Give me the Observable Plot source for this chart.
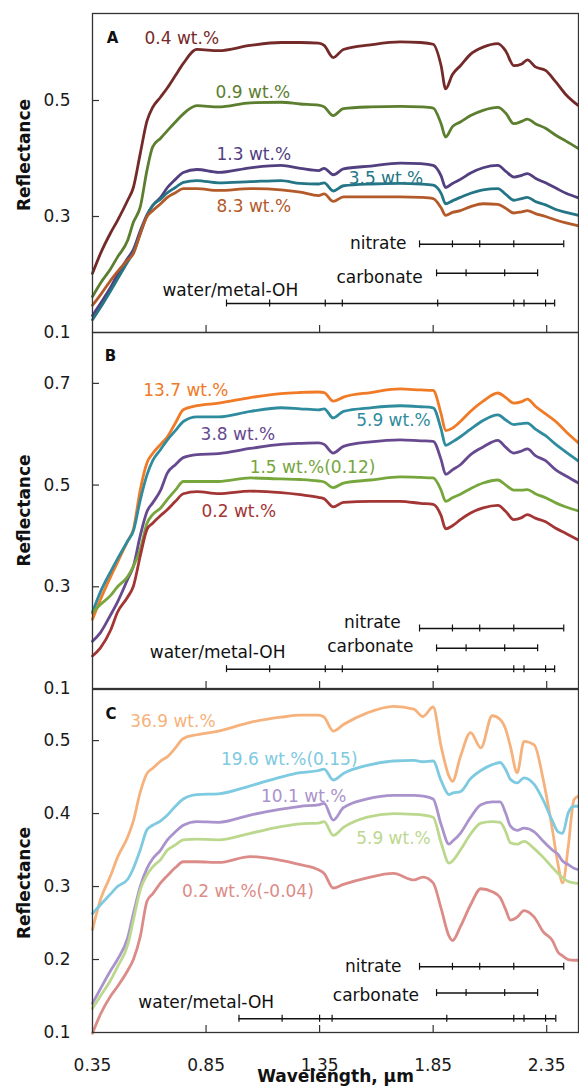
<!DOCTYPE html>
<html><head><meta charset="utf-8">
<script src="https://cdn.jsdelivr.net/npm/d3@7"></script>
<script src="https://cdn.jsdelivr.net/npm/@observablehq/plot@0.6"></script>
<style>
html,body{margin:0;padding:0;background:#fff;}
#wrap{position:relative;width:579px;height:1087px;overflow:hidden;}
#wrap svg{position:absolute;left:0;}
</style></head><body><div id="wrap"></div>
<script>
// ---------- shared x axis ----------
const xDomain = [0.35, 2.49];
const xTicks = [0.35, 0.85, 1.35, 1.85, 2.35];

// ---------- band annotation wavelengths ----------
const nitrateBands = [1.79, 1.935, 2.055, 2.205, 2.425];
const carbonateBands = [1.865, 1.995, 2.165, 2.31];
const waterBandsAB = [0.94, 1.13, 1.375, 1.45, 1.87, 2.205, 2.25, 2.345, 2.385];
const waterBandsC = [0.995, 1.185, 1.35, 1.405, 1.91, 2.205, 2.25, 2.345, 2.39];

// ---------- panel A ----------
const wlA = [0.35,0.385,0.43,0.46,0.505,0.53,0.56,0.59,0.615,0.65,0.68,0.715,0.75,0.81,0.905,1.045,1.18,1.265,1.345,1.37,1.41,1.455,1.575,1.705,1.795,1.85,1.885,1.905,1.935,1.97,2.015,2.07,2.135,2.17,2.205,2.24,2.265,2.3,2.345,2.39,2.435,2.49];
const namesA = ["0.4 wt.%", "0.9 wt.%", "1.3 wt.%", "3.5 wt.%", "8.3 wt.%"];
const colorsA = ["#752a2a", "#5b7e2f", "#523f80", "#247585", "#b35a2b"];
const a_04 = [0.202,0.236,0.272,0.293,0.328,0.35,0.408,0.465,0.488,0.506,0.522,0.543,0.564,0.588,0.586,0.595,0.6,0.6,0.599,0.595,0.574,0.588,0.596,0.601,0.6,0.597,0.56,0.52,0.545,0.56,0.58,0.592,0.598,0.585,0.56,0.563,0.57,0.558,0.552,0.532,0.51,0.491];
const a_09 = [0.162,0.185,0.21,0.23,0.259,0.29,0.316,0.38,0.42,0.435,0.448,0.463,0.477,0.491,0.489,0.496,0.497,0.494,0.492,0.489,0.474,0.486,0.489,0.49,0.489,0.487,0.46,0.437,0.455,0.463,0.474,0.483,0.488,0.478,0.46,0.464,0.468,0.46,0.452,0.44,0.43,0.417];
const a_13 = [0.129,0.15,0.178,0.2,0.228,0.243,0.275,0.303,0.319,0.333,0.35,0.364,0.376,0.381,0.376,0.384,0.388,0.383,0.379,0.383,0.372,0.382,0.387,0.392,0.391,0.388,0.37,0.35,0.357,0.364,0.375,0.384,0.388,0.378,0.368,0.371,0.374,0.366,0.358,0.349,0.34,0.332];
const a_35 = [0.122,0.143,0.172,0.192,0.222,0.238,0.27,0.302,0.319,0.33,0.341,0.35,0.359,0.362,0.358,0.36,0.362,0.357,0.356,0.358,0.344,0.353,0.356,0.357,0.356,0.354,0.34,0.322,0.327,0.333,0.34,0.346,0.348,0.338,0.328,0.331,0.333,0.326,0.32,0.312,0.307,0.302];
const a_83 = [0.147,0.165,0.19,0.205,0.225,0.236,0.27,0.3,0.31,0.322,0.333,0.341,0.348,0.348,0.345,0.348,0.346,0.342,0.336,0.339,0.326,0.334,0.334,0.334,0.333,0.331,0.315,0.302,0.307,0.31,0.317,0.322,0.321,0.314,0.306,0.308,0.31,0.305,0.3,0.294,0.289,0.284];

// ---------- panel B ----------
const wlB = wlA;
const namesB = ["13.7 wt.%", "5.9 wt.%", "3.8 wt.%", "1.5 wt.%(0.12)", "0.2 wt.%"];
const colorsB = ["#f07a26", "#2f8c9e", "#66498f", "#76a63c", "#a33535"];
const b_137 = [0.236,0.275,0.32,0.348,0.39,0.413,0.49,0.544,0.562,0.58,0.595,0.622,0.648,0.656,0.661,0.672,0.68,0.682,0.683,0.682,0.665,0.673,0.682,0.689,0.687,0.686,0.64,0.607,0.612,0.625,0.645,0.665,0.681,0.672,0.661,0.664,0.669,0.655,0.64,0.625,0.605,0.583];
const b_59 = [0.25,0.29,0.33,0.355,0.39,0.41,0.47,0.52,0.548,0.57,0.589,0.607,0.625,0.634,0.634,0.645,0.652,0.65,0.648,0.65,0.632,0.645,0.652,0.656,0.654,0.652,0.61,0.578,0.585,0.595,0.61,0.627,0.638,0.628,0.619,0.621,0.622,0.61,0.597,0.58,0.565,0.547];
const b_38 = [0.193,0.21,0.245,0.27,0.315,0.34,0.4,0.448,0.465,0.49,0.524,0.54,0.554,0.56,0.562,0.572,0.58,0.582,0.583,0.58,0.563,0.576,0.585,0.589,0.587,0.586,0.55,0.521,0.53,0.54,0.56,0.575,0.588,0.574,0.563,0.567,0.571,0.558,0.548,0.53,0.518,0.504];
const b_15 = [0.249,0.265,0.283,0.3,0.32,0.34,0.373,0.425,0.442,0.455,0.472,0.49,0.507,0.507,0.507,0.514,0.512,0.511,0.508,0.506,0.495,0.504,0.51,0.516,0.515,0.514,0.49,0.468,0.475,0.482,0.493,0.504,0.51,0.5,0.49,0.49,0.491,0.483,0.475,0.465,0.457,0.449];
const b_02 = [0.164,0.18,0.215,0.25,0.28,0.301,0.36,0.413,0.425,0.44,0.452,0.468,0.483,0.487,0.483,0.488,0.485,0.481,0.476,0.473,0.457,0.466,0.468,0.468,0.464,0.462,0.44,0.414,0.42,0.432,0.445,0.455,0.46,0.448,0.432,0.436,0.442,0.435,0.428,0.415,0.405,0.392];

// ---------- panel C ----------
const wlC = [0.35,0.385,0.43,0.46,0.505,0.53,0.56,0.59,0.615,0.65,0.68,0.715,0.75,0.81,0.905,1.045,1.18,1.265,1.345,1.37,1.41,1.455,1.56,1.675,1.765,1.805,1.85,1.885,1.92,1.935,1.97,2.015,2.06,2.11,2.145,2.17,2.19,2.22,2.25,2.295,2.335,2.375,2.4,2.42,2.445,2.47,2.49];
const namesC = ["36.9 wt.%", "19.6 wt.%(0.15)", "10.1 wt.%", "5.9 wt.%", "0.2 wt.%(-0.04)"];
const colorsC = ["#f6b27c", "#7ecae0", "#aa93cc", "#bcd88e", "#dc8c88"];
const c_369 = [0.241,0.282,0.315,0.34,0.368,0.39,0.429,0.455,0.462,0.472,0.478,0.49,0.503,0.508,0.513,0.525,0.532,0.535,0.535,0.532,0.513,0.522,0.538,0.547,0.543,0.533,0.546,0.492,0.451,0.444,0.478,0.511,0.49,0.534,0.529,0.515,0.492,0.456,0.499,0.494,0.446,0.378,0.33,0.305,0.355,0.419,0.424];
const c_196 = [0.263,0.275,0.29,0.3,0.31,0.325,0.35,0.378,0.384,0.39,0.398,0.41,0.42,0.426,0.427,0.438,0.45,0.456,0.459,0.461,0.446,0.455,0.466,0.472,0.473,0.471,0.472,0.445,0.426,0.428,0.43,0.448,0.459,0.467,0.47,0.46,0.447,0.442,0.449,0.44,0.418,0.39,0.375,0.373,0.401,0.41,0.41];
const c_101 = [0.14,0.16,0.185,0.2,0.23,0.263,0.3,0.325,0.338,0.35,0.364,0.375,0.384,0.389,0.388,0.398,0.406,0.41,0.412,0.414,0.391,0.408,0.42,0.425,0.425,0.424,0.42,0.385,0.358,0.362,0.373,0.395,0.412,0.416,0.416,0.4,0.383,0.377,0.38,0.375,0.362,0.35,0.344,0.335,0.33,0.325,0.323];
const c_59 = [0.133,0.15,0.172,0.19,0.22,0.254,0.295,0.316,0.327,0.337,0.35,0.357,0.364,0.365,0.364,0.373,0.382,0.386,0.387,0.389,0.37,0.381,0.395,0.4,0.399,0.398,0.395,0.36,0.332,0.335,0.35,0.372,0.387,0.389,0.388,0.375,0.36,0.358,0.362,0.352,0.34,0.326,0.318,0.312,0.307,0.305,0.304];
const c_02 = [0.099,0.125,0.15,0.163,0.185,0.2,0.231,0.28,0.29,0.305,0.315,0.326,0.334,0.334,0.333,0.341,0.336,0.33,0.323,0.318,0.298,0.303,0.312,0.318,0.309,0.313,0.305,0.27,0.232,0.226,0.245,0.275,0.297,0.293,0.285,0.268,0.254,0.258,0.267,0.258,0.238,0.226,0.21,0.205,0.2,0.199,0.199];

// ---------- layout (annotation anchors in data units) ----------
const layoutA = {
  top: 0, height: 333, mTop: 13, mBottom: 1, yDomain: [0.1, 0.65], yTicks: [0.1, 0.3, 0.5],
  labelPos: [[0.579, 0.607], [0.892, 0.514], [0.896, 0.407], [1.478, 0.365], [0.896, 0.317]],
  bandY: {nitrate: 0.252, carbonate: 0.202, water: 0.150},
  bandText: {nitrate: [1.733, 0.253], carbonate: [1.804, 0.195], water: [0.658, 0.172]},
  letter: "A", letterD: [20, 25], reflDy: -18
};
const layoutB = {
  top: 331, height: 358, mTop: 1, mBottom: 1, yDomain: [0.1, 0.8], yTicks: [0.1, 0.3, 0.5, 0.7],
  labelPos: [[0.573, 0.686], [1.511, 0.627], [0.826, 0.599], [1.042, 0.534], [0.83, 0.447]],
  bandY: {nitrate: 0.218, carbonate: 0.179, water: 0.138},
  bandText: {nitrate: [1.707, 0.23], carbonate: [1.763, 0.182], water: [0.602, 0.171]},
  letter: "B", letterD: [18, 24], reflDy: 0
};
const layoutC = {
  top: 688, height: 399, mTop: 1, mBottom: 55, yDomain: [0.1, 0.57], yTicks: [0.1, 0.2, 0.3, 0.4, 0.5],
  labelPos: [[0.516, 0.526], [0.916, 0.474], [1.092, 0.423], [1.511, 0.366], [0.744, 0.293]],
  bandY: {nitrate: 0.19, carbonate: 0.154, water: 0.119},
  bandText: {nitrate: [1.711, 0.191], carbonate: [1.788, 0.151], water: [0.552, 0.141]},
  letter: "C", letterD: [18.5, 25], reflDy: 22
};

const FONT = "DejaVu Sans";
const W = 579, mL = 92, mR = 1;

function makePanel(wl, names, colors, valueArrays, water, L, last) {
  const innerH = L.height - L.mTop - L.mBottom;
  const innerW = W - mL - mR;
  const rows = names.flatMap((n, k) => wl.map((w, i) => ({wl: w, r: valueArrays[k][i], name: n})));
  const labels = names.map((n, k) => ({x: L.labelPos[k][0], y: L.labelPos[k][1], name: n}));
  const bands = [
    {key: "nitrate", ticks: nitrateBands},
    {key: "carbonate", ticks: carbonateBands},
    {key: "water", ticks: water}
  ];
  const bandRules = bands.map(b => ({x1: b.ticks[0], x2: b.ticks[b.ticks.length - 1], y: L.bandY[b.key]}));
  const bandTicks = bands.flatMap(b => b.ticks.map(t => ({x: t, y: L.bandY[b.key]})));
  const bandLabels = [
    {text: "nitrate", x: L.bandText.nitrate[0], y: L.bandText.nitrate[1], anchor: "end"},
    {text: "carbonate", x: L.bandText.carbonate[0], y: L.bandText.carbonate[1], anchor: "end"},
    {text: "water/metal-OH", x: L.bandText.water[0], y: L.bandText.water[1], anchor: "start"}
  ];
  const marks = [
    Plot.ruleY(L.yTicks.filter(t => t > L.yDomain[0]), {y: d => d, insetRight: innerW - 7, stroke: "#333", strokeWidth: 1.2}),
    Plot.ruleX(xTicks.filter(t => t > xDomain[0]), {x: d => d, insetTop: innerH - 7, stroke: "#333", strokeWidth: 1.2}),
    Plot.axisY(L.yTicks, {tickSize: 0, tickPadding: 22, tickFormat: d => d.toFixed(1), fontSize: 17, label: null, fill: "#1a1a1a"}),
    Plot.ruleY(bandRules, {x1: "x1", x2: "x2", y: "y", stroke: "#111", strokeWidth: 1.5}),
    Plot.ruleX(bandTicks, {x: "x", y1: "y", y2: "y", insetTop: -3.5, insetBottom: -3.5, stroke: "#111", strokeWidth: 1.2}),
    Plot.text(bandLabels.filter(d => d.anchor === "end"), {x: "x", y: "y", text: "text", textAnchor: "end", lineAnchor: "middle", fontSize: 17, fill: "#111"}),
    Plot.text(bandLabels.filter(d => d.anchor === "start"), {x: "x", y: "y", text: "text", textAnchor: "start", lineAnchor: "middle", fontSize: 17, fill: "#111"}),
    Plot.line(rows, {x: "wl", y: "r", z: "name", stroke: "name", strokeWidth: 2.8, curve: "monotone-x", strokeLinejoin: "round"}),
    Plot.text(labels, {x: "x", y: "y", text: "name", fill: "name", textAnchor: "start", lineAnchor: "middle", fontSize: 17}),
    Plot.text([L.letter], {frameAnchor: "top-left", dx: L.letterD[0], dy: L.letterD[1], textAnchor: "middle", lineAnchor: "middle", fontSize: 15, fontWeight: "bold", fill: "#111"}),
    Plot.text(["Reflectance"], {frameAnchor: "left", dx: -68, dy: L.reflDy, rotate: -90, textAnchor: "middle", lineAnchor: "middle", fontSize: 17, fontWeight: "bold", fill: "#111"}),
    Plot.frame({stroke: "#333", strokeWidth: 1.3})
  ];
  if (last) {
    marks.push(Plot.axisX(xTicks, {tickSize: 0, tickPadding: 26, fontSize: 17, label: null, fill: "#1a1a1a", tickFormat: d => d.toFixed(2)}));
    marks.push(Plot.text(["Wavelength, µm"], {frameAnchor: "bottom", dy: 44, textAnchor: "middle", lineAnchor: "middle", fontSize: 17, fontWeight: "bold", fill: "#111"}));
  }
  const svg = Plot.plot({
    width: W, height: L.height,
    marginLeft: mL, marginRight: mR, marginTop: L.mTop, marginBottom: L.mBottom,
    x: {domain: xDomain, axis: last ? undefined : null},
    y: {domain: L.yDomain},
    color: {domain: names, range: colors},
    style: {fontFamily: FONT, background: "transparent", overflow: "visible"},
    marks
  });
  svg.style.top = L.top + "px";
  svg.style.position = "absolute";
  svg.style.maxWidth = "none";
  return svg;
}

const wrap = document.getElementById("wrap");
wrap.appendChild(makePanel(wlA, namesA, colorsA, [a_04, a_09, a_13, a_35, a_83], waterBandsAB, layoutA, false));
wrap.appendChild(makePanel(wlB, namesB, colorsB, [b_137, b_59, b_38, b_15, b_02], waterBandsAB, layoutB, false));
wrap.appendChild(makePanel(wlC, namesC, colorsC, [c_369, c_196, c_101, c_59, c_02], waterBandsC, layoutC, true));
</script></body></html>
